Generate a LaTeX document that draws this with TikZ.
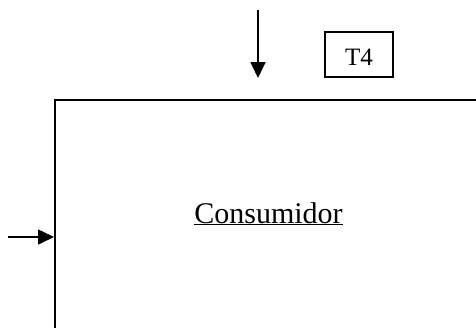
\documentclass[tikz,border=0pt]{standalone}
\usepackage{fontspec}
\setmainfont{Liberation Serif}
\usetikzlibrary{arrows.meta}
\tikzset{
  line/.style={line width=1.6pt, draw=black},
  arrowline/.style={line, -{Triangle[length=16pt,width=15pt]}},
  tag/.style={line, minimum width=68pt, minimum height=45pt, inner sep=0pt,
    text height=21pt, text depth=0pt, font=\fontsize{25}{30}\selectfont},
  bigtitle/.style={inner sep=0pt, font=\fontsize{30}{36}\selectfont},
}
\begin{document}
\begin{tikzpicture}[x=1pt,y=-1pt]
\useasboundingbox (0,0) rectangle (476,327);
\clip (0,0) rectangle (476,327);
% open consumer box (extends past the right and bottom edges)
\node[line, minimum width=460pt, minimum height=260pt, inner sep=0pt, anchor=north west] (cons) at (54,99) {};
\node[bigtitle, anchor=base] (title) at (268.5,223) {\underline{Consumidor}};
\node[tag] (t4) at (359,54.5) {T4};
\coordinate (topstart) at (258,10);
\coordinate (topend) at (258,78);
\draw[arrowline] (topstart) -- (topend);
\coordinate (leftstart) at (8,237);
\draw[arrowline] (leftstart) -- (leftstart -| cons.west);
\end{tikzpicture}
\end{document}
